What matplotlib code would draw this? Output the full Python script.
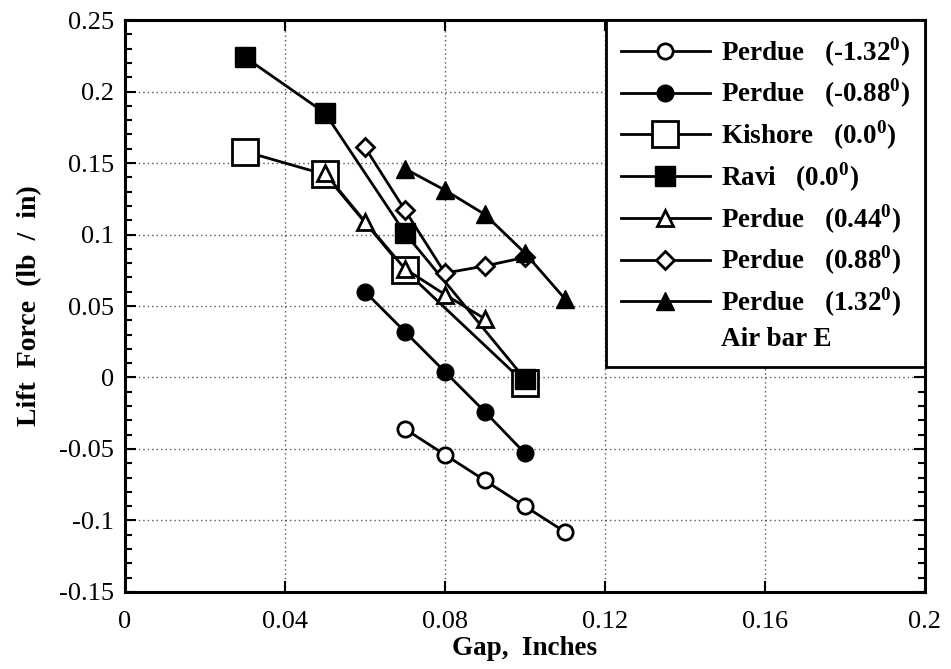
import matplotlib
matplotlib.use("Agg")
import matplotlib.pyplot as plt
from matplotlib.ticker import MultipleLocator, FuncFormatter

plt.rcParams['font.family'] = ['Liberation Serif', 'DejaVu Serif']
plt.rcParams['mathtext.fontset'] = 'custom'
plt.rcParams['mathtext.rm'] = 'Liberation Serif:bold'
plt.rcParams['mathtext.bf'] = 'Liberation Serif:bold'

# data
gap_m132 = [0.07, 0.08, 0.09, 0.10, 0.11]
lift_m132 = [-0.036, -0.054, -0.072, -0.090, -0.108]
gap_m088 = [0.06, 0.07, 0.08, 0.09, 0.10]
lift_m088 = [0.060, 0.032, 0.004, -0.024, -0.053]
gap_kish = [0.03, 0.05, 0.07, 0.10]
lift_kish = [0.158, 0.142, 0.075, -0.004]
gap_ravi = [0.03, 0.05, 0.07, 0.10]
lift_ravi = [0.224, 0.185, 0.101, -0.001]
gap_p044 = [0.05, 0.06, 0.07, 0.08, 0.09]
lift_p044 = [0.143, 0.109, 0.076, 0.058, 0.041]
gap_p088 = [0.06, 0.07, 0.08, 0.09, 0.10]
lift_p088 = [0.161, 0.117, 0.073, 0.078, 0.084]
gap_p132 = [0.07, 0.08, 0.09, 0.10, 0.11]
lift_p132 = [0.146, 0.131, 0.114, 0.087, 0.055]

labels = ['Perdue   (-1.32$^{0}$)', 'Perdue   (-0.88$^{0}$)', 'Kishore   (0.0$^{0}$)',
          'Ravi   (0.0$^{0}$)', 'Perdue   (0.44$^{0}$)', 'Perdue   (0.88$^{0}$)',
          'Perdue   (1.32$^{0}$)']
note = 'Air bar E'

fig = plt.figure(figsize=(9.51, 6.69), dpi=100)
ax = fig.add_axes([0.1314, 0.1151, 0.8412, 0.855])

lw = 2.0
ax.plot(gap_m132, lift_m132, '-o', color='black', mfc='white', mec='black', mew=2, ms=11, lw=lw, label=labels[0])
ax.plot(gap_m088, lift_m088, '-o', color='black', mfc='black', mec='black', ms=12, lw=lw, label=labels[1])
ax.plot(gap_kish, lift_kish, '-s', color='black', mfc='white', mec='black', mew=2, ms=19, lw=lw, label=labels[2])
ax.plot(gap_ravi, lift_ravi, '-s', color='black', mfc='black', mec='black', ms=14, lw=lw, label=labels[3])
ax.plot(gap_p044, lift_p044, '-^', color='black', mfc='white', mec='black', mew=2, ms=11, lw=lw, label=labels[4])
ax.plot(gap_p088, lift_p088, '-D', color='black', mfc='white', mec='black', mew=2, ms=9, lw=lw, label=labels[5])
ax.plot(gap_p132, lift_p132, '-^', color='black', mfc='black', mec='black', ms=13, lw=lw, label=labels[6])
ax.plot([], [], color='none', label=note)

ax.set_xlim(0, 0.2)
ax.set_ylim(-0.15, 0.25)
ax.xaxis.set_major_locator(MultipleLocator(0.04))
ax.yaxis.set_major_locator(MultipleLocator(0.05))
ax.yaxis.set_minor_locator(MultipleLocator(0.01))
fmt = FuncFormatter(lambda v, p: '%g' % round(v, 3))
ax.xaxis.set_major_formatter(fmt)
ax.yaxis.set_major_formatter(fmt)

ax.tick_params(axis='x', which='major', direction='in', length=8, width=1.5,
               labelsize=19, top=True, pad=14)
ax.tick_params(axis='y', which='major', direction='in', length=8, width=1.5,
               labelsize=19, right=True, pad=8)
ax.tick_params(axis='y', which='minor', direction='in', length=5, width=1.5, right=True)
for s in ax.spines.values():
    s.set_linewidth(2.2)

ax.grid(True, which='major', linestyle=(0, (1.0, 2.2)), color='#555555', linewidth=1.0)

ax.set_xlabel('Gap,  Inches', fontsize=19.5, fontweight='bold', labelpad=2)
ax.set_ylabel('Lift  Force  (lb  /  in)', fontsize=20, fontweight='bold', labelpad=12)

leg = ax.legend(loc='upper right', bbox_to_anchor=(1.0, 1.0), borderaxespad=0,
                prop={'weight': 'bold', 'size': 19.5}, handlelength=3.3, handletextpad=0.4,
                labelspacing=0.3, fancybox=False, framealpha=1, edgecolor='black',
                borderpad=0.55)
leg.get_frame().set_linewidth(2.0)

fig.savefig('out.png', dpi=100)
